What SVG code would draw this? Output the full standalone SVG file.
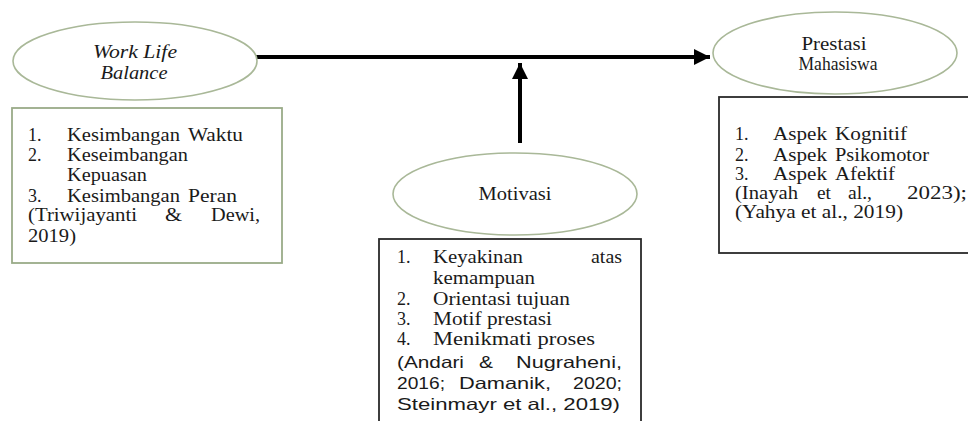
<svg xmlns="http://www.w3.org/2000/svg" width="968" height="421" viewBox="0 0 968 421">
<style>
.ell{fill:#fff;stroke:#a9b898;stroke-width:1.6}
.gbox{fill:#fff;stroke:#9aab88;stroke-width:1.8}
.kbox{fill:#fff;stroke:#2a2a2a;stroke-width:1.8}
.s{font-family:"Liberation Serif","Times New Roman",serif;font-size:18px;fill:#1a1a1a}
.i{font-style:italic}
.ss{font-family:"Liberation Sans",Arial,sans-serif;font-size:16.5px;fill:#1a1a1a}
.c{text-anchor:middle}
.ln{stroke:#000;stroke-width:4;fill:none}
</style>
<defs>
<marker id="ah" viewBox="0 0 10 10" refX="10" refY="5" markerWidth="5" markerHeight="4" markerUnits="strokeWidth" orient="auto">
<path d="M0,0 L10,5 L0,10 z" fill="#000"/>
</marker>
</defs>
<rect width="968" height="421" fill="#fff"/>
<g id="connectors">
<line class="ln" x1="256" y1="57" x2="710" y2="57" marker-end="url(#ah)"/>
<line class="ln" x1="520" y1="143" x2="520" y2="63" marker-end="url(#ah)"/>
</g>
<g id="wlb">
<ellipse class="ell" cx="135" cy="61" rx="122" ry="39"/>
<text class="s i c" x="135" y="58" textLength="84" lengthAdjust="spacingAndGlyphs">Work Life</text>
<text class="s i c" x="134" y="79" textLength="67" lengthAdjust="spacingAndGlyphs">Balance</text>
</g>
<g id="wlb-box">
<rect class="gbox" x="12" y="108" width="270" height="155"/>
<text class="s" x="28" y="141">1.</text>
<text class="s" x="67" y="141" textLength="113" lengthAdjust="spacingAndGlyphs">Kesimbangan</text>
<text class="s" x="188" y="141" textLength="55" lengthAdjust="spacingAndGlyphs">Waktu</text>
<text class="s" x="28" y="161">2.</text>
<text class="s" x="67" y="161" textLength="121" lengthAdjust="spacingAndGlyphs">Keseimbangan</text>
<text class="s" x="67" y="181" textLength="80" lengthAdjust="spacingAndGlyphs">Kepuasan</text>
<text class="s" x="28" y="202">3.</text>
<text class="s" x="67" y="202" textLength="113" lengthAdjust="spacingAndGlyphs">Kesimbangan</text>
<text class="s" x="188" y="202" textLength="49" lengthAdjust="spacingAndGlyphs">Peran</text>
<text class="s" x="28" y="221" textLength="109" lengthAdjust="spacingAndGlyphs">(Triwijayanti</text>
<text class="s" x="165" y="221" textLength="17" lengthAdjust="spacingAndGlyphs">&amp;</text>
<text class="s" x="211" y="221" textLength="49" lengthAdjust="spacingAndGlyphs">Dewi,</text>
<text class="s" x="28" y="242" textLength="48" lengthAdjust="spacingAndGlyphs">2019)</text>
</g>
<g id="motivasi">
<ellipse class="ell" cx="515" cy="194" rx="122" ry="41"/>
<text class="s c" x="515" y="200" textLength="73" lengthAdjust="spacingAndGlyphs">Motivasi</text>
</g>
<g id="motivasi-box">
<rect class="kbox" x="379" y="239" width="262" height="200"/>
<text class="s" x="397" y="263">1.</text>
<text class="s" x="433" y="263" textLength="90" lengthAdjust="spacingAndGlyphs">Keyakinan</text>
<text class="s" x="591" y="263" textLength="31" lengthAdjust="spacingAndGlyphs">atas</text>
<text class="s" x="433" y="284" textLength="102" lengthAdjust="spacingAndGlyphs">kemampuan</text>
<text class="s" x="397" y="305">2.</text>
<text class="s" x="433" y="305" textLength="137" lengthAdjust="spacingAndGlyphs">Orientasi tujuan</text>
<text class="s" x="397" y="325">3.</text>
<text class="s" x="433" y="325" textLength="119" lengthAdjust="spacingAndGlyphs">Motif prestasi</text>
<text class="s" x="397" y="345">4.</text>
<text class="s" x="433" y="345" textLength="162" lengthAdjust="spacingAndGlyphs">Menikmati proses</text>
<text class="ss" x="397" y="368" textLength="67" lengthAdjust="spacingAndGlyphs">(Andari</text>
<text class="ss" x="479" y="368" textLength="14" lengthAdjust="spacingAndGlyphs">&amp;</text>
<text class="ss" x="516" y="368" textLength="106" lengthAdjust="spacingAndGlyphs">Nugraheni,</text>
<text class="ss" x="397" y="389" textLength="48" lengthAdjust="spacingAndGlyphs">2016;</text>
<text class="ss" x="459" y="389" textLength="92" lengthAdjust="spacingAndGlyphs">Damanik,</text>
<text class="ss" x="573" y="389" textLength="49" lengthAdjust="spacingAndGlyphs">2020;</text>
<text class="ss" x="397" y="410" textLength="223" lengthAdjust="spacingAndGlyphs">Steinmayr et al., 2019)</text>
</g>
<g id="prestasi">
<ellipse class="ell" cx="835" cy="53" rx="122" ry="41"/>
<text class="s c" x="834" y="50" textLength="65" lengthAdjust="spacingAndGlyphs">Prestasi</text>
<text class="s c" x="838" y="70" textLength="79" lengthAdjust="spacingAndGlyphs">Mahasiswa</text>
</g>
<g id="prestasi-box">
<rect class="kbox" x="719" y="97" width="260" height="156"/>
<text class="s" x="735" y="140">1.</text>
<text class="s" x="773" y="140" textLength="54" lengthAdjust="spacingAndGlyphs">Aspek</text>
<text class="s" x="835" y="140" textLength="72" lengthAdjust="spacingAndGlyphs">Kognitif</text>
<text class="s" x="735" y="161">2.</text>
<text class="s" x="773" y="161" textLength="54" lengthAdjust="spacingAndGlyphs">Aspek</text>
<text class="s" x="835" y="161" textLength="94" lengthAdjust="spacingAndGlyphs">Psikomotor</text>
<text class="s" x="735" y="180">3.</text>
<text class="s" x="773" y="180" textLength="54" lengthAdjust="spacingAndGlyphs">Aspek</text>
<text class="s" x="835" y="180" textLength="60" lengthAdjust="spacingAndGlyphs">Afektif</text>
<text class="s" x="735" y="199" textLength="63" lengthAdjust="spacingAndGlyphs">(Inayah</text>
<text class="s" x="817" y="199" textLength="14" lengthAdjust="spacingAndGlyphs">et</text>
<text class="s" x="848" y="199" textLength="24" lengthAdjust="spacingAndGlyphs">al.,</text>
<text class="s" x="907" y="199" textLength="60" lengthAdjust="spacingAndGlyphs">2023);</text>
<text class="s" x="735" y="218" textLength="168" lengthAdjust="spacingAndGlyphs">(Yahya et al., 2019)</text>
</g>
</svg>
